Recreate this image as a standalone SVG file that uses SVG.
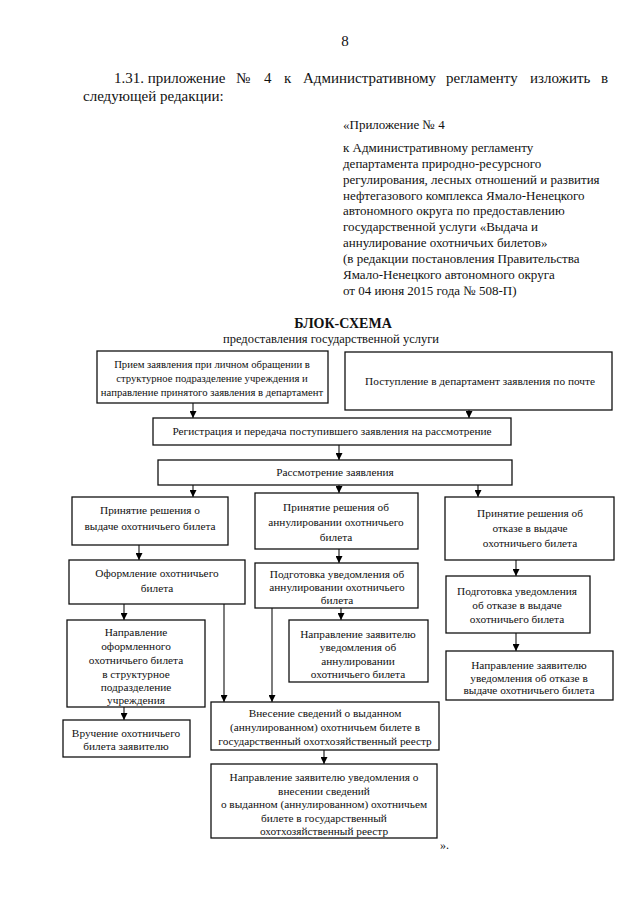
<svg xmlns="http://www.w3.org/2000/svg" width="640" height="905" viewBox="0 0 640 905">
<defs>
<marker id="ah" viewBox="0 0 8 8" refX="8" refY="4" markerWidth="7" markerHeight="7" markerUnits="userSpaceOnUse" orient="auto">
<path d="M0,0 L8,4 L0,8 z" fill="#000"/>
</marker>
<style>
text{font-family:"Liberation Serif","Times New Roman",serif;fill:#111}
.hd{font-size:15px}
.rt{font-size:13px}
.bx text{font-size:11.3px;text-anchor:middle}
.bx rect{fill:#fff;stroke:#111;stroke-width:1.3}
#connectors line,#connectors polyline{stroke:#111;stroke-width:1.1;fill:none;marker-end:url(#ah)}
</style>
</defs>
<rect width="640" height="905" fill="#fff"/>

<g id="header">
<text x="345" y="46" text-anchor="middle" font-size="15">8</text>
<text class="hd" y="83"><tspan x="114">1.31. приложение</tspan><tspan x="236">№</tspan><tspan x="264">4</tspan><tspan x="284">к</tspan><tspan x="303">Административному</tspan><tspan x="446">регламенту</tspan><tspan x="530">изложить</tspan><tspan x="601">в</tspan></text>
<text class="hd" x="83" y="101">следующей редакции:</text>
</g>

<g id="appendix">
<text class="rt" x="343" y="129">«Приложение № 4</text>
<text class="rt" x="343" y="152">к Административному регламенту</text>
<text class="rt" x="343" y="168">департамента природно-ресурсного</text>
<text class="rt" x="343" y="184">регулирования, лесных отношений и развития</text>
<text class="rt" x="343" y="200">нефтегазового комплекса Ямало-Ненецкого</text>
<text class="rt" x="343" y="215">автономного округа по предоставлению</text>
<text class="rt" x="343" y="231">государственной услуги «Выдача и</text>
<text class="rt" x="343" y="247">аннулирование охотничьих билетов»</text>
<text class="rt" x="343" y="263">(в редакции постановления Правительства</text>
<text class="rt" x="343" y="279">Ямало-Ненецкого автономного округа</text>
<text class="rt" x="343" y="295">от 04 июня 2015 года № 508-П)</text>
</g>

<g id="title">
<text x="343" y="328" text-anchor="middle" font-size="14" font-weight="bold">БЛОК-СХЕМА</text>
<text x="331" y="343" text-anchor="middle" font-size="12.5">предоставления государственной услуги</text>
</g>

<g id="connectors">
<line x1="193" y1="403" x2="193" y2="418"/>
<line x1="469" y1="410" x2="469" y2="418"/>
<line x1="339" y1="445" x2="339" y2="460"/>
<line x1="193" y1="485" x2="193" y2="497"/>
<line x1="339" y1="485" x2="339" y2="493"/>
<line x1="478" y1="485" x2="478" y2="497"/>
<line x1="139" y1="545" x2="139" y2="560"/>
<line x1="339" y1="549" x2="339" y2="563"/>
<line x1="516" y1="560" x2="516" y2="576"/>
<line x1="124" y1="604" x2="124" y2="620"/>
<line x1="224" y1="604" x2="224" y2="702"/>
<line x1="272" y1="608" x2="272" y2="702"/>
<line x1="341" y1="608" x2="341" y2="620"/>
<line x1="516" y1="633" x2="516" y2="651"/>
<line x1="124" y1="707" x2="124" y2="720"/>
<line x1="324" y1="750" x2="324" y2="764"/>
</g>

<g id="n_priem" class="bx"><rect x="97" y="351" width="231" height="52"/>
<text x="212" y="368" style="font-size:10.7px">Прием заявления при личном обращении в</text>
<text x="212" y="382" style="font-size:10.7px">структурное подразделение учреждения и</text>
<text x="212" y="396" style="font-size:10.7px">направление принятого заявления в департамент</text></g>

<g id="n_pochta" class="bx"><rect x="345" y="352" width="267" height="58"/>
<text x="480" y="385">Поступление в департамент заявления по почте</text></g>

<g id="n_reg" class="bx"><rect x="153" y="418" width="358" height="27"/>
<text x="332" y="435">Регистрация и передача поступившего заявления на рассмотрение</text></g>

<g id="n_rassm" class="bx"><rect x="158" y="460" width="354" height="25"/>
<text x="335" y="476">Рассмотрение заявления</text></g>

<g id="n_vydacha" class="bx"><rect x="72" y="497" width="156" height="48"/>
<text x="150" y="514">Принятие решения о</text>
<text x="150" y="530">выдаче охотничьего билета</text></g>

<g id="n_annul" class="bx"><rect x="255" y="493" width="163" height="56"/>
<text x="336" y="511">Принятие решения об</text>
<text x="336" y="526">аннулировании  охотничьего</text>
<text x="336" y="541">билета</text></g>

<g id="n_otkaz" class="bx"><rect x="445" y="497" width="169" height="63"/>
<text x="530" y="517">Принятие решения об</text>
<text x="530" y="532">отказе в выдаче</text>
<text x="530" y="547">охотничьего билета</text></g>

<g id="n_oform" class="bx"><rect x="69" y="560" width="176" height="44"/>
<text x="157" y="577">Оформление охотничьего</text>
<text x="157" y="592">билета</text></g>

<g id="n_podg_annul" class="bx"><rect x="255" y="563" width="163" height="45"/>
<text x="337" y="578">Подготовка уведомления об</text>
<text x="337" y="591">аннулировании охотничьего</text>
<text x="337" y="604">билета</text></g>

<g id="n_podg_otkaz" class="bx"><rect x="446" y="576" width="144" height="57"/>
<text x="517" y="595">Подготовка уведомления</text>
<text x="517" y="609">об отказе в выдаче</text>
<text x="517" y="623">охотничьего билета</text></g>

<g id="n_napr_bilet" class="bx"><rect x="67" y="620" width="138" height="87"/>
<text x="136" y="636">Направление</text>
<text x="136" y="650">оформленного</text>
<text x="136" y="664">охотничьего билета</text>
<text x="136" y="678">в структурное</text>
<text x="136" y="691">подразделение</text>
<text x="136" y="704">учреждения</text></g>

<g id="n_napr_annul" class="bx"><rect x="289" y="620" width="139" height="62"/>
<text x="358" y="638">Направление заявителю</text>
<text x="358" y="651">уведомления об</text>
<text x="358" y="665">аннулировании</text>
<text x="358" y="678">охотничьего билета</text></g>

<g id="n_napr_otkaz" class="bx"><rect x="446" y="651" width="167" height="49"/>
<text x="529" y="669">Направление заявителю</text>
<text x="529" y="682">уведомления об отказе в</text>
<text x="529" y="694">выдаче  охотничьего билета</text></g>

<g id="n_vruch" class="bx"><rect x="63" y="720" width="127" height="37"/>
<text x="126" y="737">Вручение охотничьего</text>
<text x="126" y="750">билета заявителю</text></g>

<g id="n_vnesen" class="bx"><rect x="211" y="702" width="228" height="48"/>
<text x="325" y="717">Внесение сведений о выданном</text>
<text x="325" y="731">(аннулированном) охотничьем билете в</text>
<text x="325" y="745">государственный охотхозяйственный реестр</text></g>

<g id="n_uved" class="bx"><rect x="211" y="764" width="226" height="74"/>
<text x="324" y="781">Направление заявителю уведомления о</text>
<text x="324" y="795">внесении сведений</text>
<text x="324" y="808">о выданном (аннулированном) охотничьем</text>
<text x="324" y="822">билете в государственный</text>
<text x="324" y="835">охотхозяйственный реестр</text></g>

<text x="440" y="849" font-size="12">».</text>
</svg>
